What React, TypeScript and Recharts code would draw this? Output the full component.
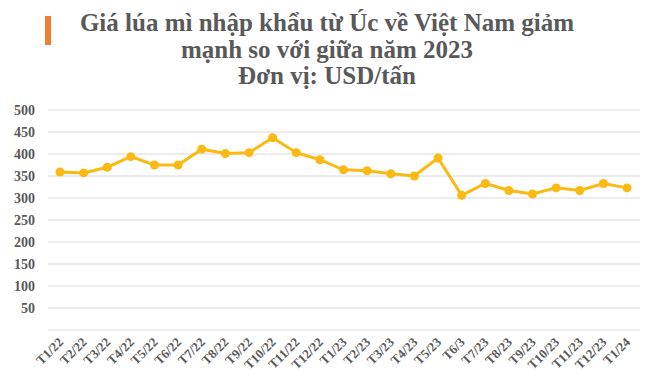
import React from 'react';
import { LineChart, Line, XAxis, YAxis, CartesianGrid } from 'recharts';

const months = [
  'T1/22', 'T2/22', 'T3/22', 'T4/22', 'T5/22', 'T6/22', 'T7/22', 'T8/22', 'T9/22',
  'T10/22', 'T11/22', 'T12/22', 'T1/23', 'T2/23', 'T3/23', 'T4/23', 'T5/23', 'T6/3',
  'T7/23', 'T8/23', 'T9/23', 'T10/23', 'T11/23', 'T12/23', 'T1/24',
];

const prices = [
  359, 357, 370, 394, 375, 375, 411, 401, 403, 437, 403, 387, 364,
  362, 355, 350, 391, 306, 333, 317, 309, 323, 317, 333, 323,
];

const yTicks = [0, 50, 100, 150, 200, 250, 300, 350, 400, 450, 500];

const titleLines = [
  'Giá lúa mì nhập khẩu từ Úc về Việt Nam giảm',
  'mạnh so với giữa năm 2023',
  'Đơn vị: USD/tấn',
];

const data = months.map((m, i) => ({ month: m, price: prices[i] }));

const FONT = '"Liberation Serif", "Times New Roman", serif';
const TEXT = '#595959';
const YELLOW = '#FBBA13';

const MonthTick = (props: any) => {
  const { x, y, payload } = props;
  return (
    <g transform={`translate(${x + 4},${y + 5})`}>
      <text
        x={0}
        y={0}
        textAnchor="end"
        transform="rotate(-45)"
        style={{ fontFamily: FONT, fontWeight: 'bold', fontSize: 13, fill: TEXT }}
      >
        {payload.value}
      </text>
    </g>
  );
};

const ValueTick = (props: any) => {
  const { x, y, payload } = props;
  if (payload.value === 0) return null;
  return (
    <text
      x={x}
      y={y}
      dy={5}
      textAnchor="end"
      style={{ fontFamily: FONT, fontWeight: 'bold', fontSize: 14, fill: TEXT }}
    >
      {payload.value}
    </text>
  );
};

export default function App() {
  return (
    <div style={{ position: 'absolute', left: 0, top: 0, width: 654, height: 383, background: '#fff' }}>
      <div style={{ position: 'absolute', left: 45, top: 16, width: 6, height: 29, background: '#ED7D31' }} />
      <div
        style={{
          position: 'absolute',
          left: 0,
          top: 10,
          width: 654,
          textAlign: 'center',
          fontFamily: FONT,
          fontWeight: 'bold',
          fontSize: 25,
          lineHeight: '26.5px',
          color: TEXT,
        }}
      >
        {titleLines.map((t) => (
          <div key={t}>{t}</div>
        ))}
      </div>
      <LineChart
        width={654}
        height={383}
        data={data}
        margin={{ top: 110, right: 14, left: 0, bottom: 0 }}
      >
        <CartesianGrid vertical={false} stroke="#d9d9d9" />
        <XAxis
          dataKey="month"
          interval={0}
          height={53}
          axisLine={false}
          tickLine={false}
          padding={{ left: 12, right: 13 }}
          tick={<MonthTick />}
        />
        <YAxis
          width={48}
          domain={[0, 500]}
          ticks={yTicks}
          interval={0}
          axisLine={false}
          tickLine={false}
          tickMargin={7}
          tick={<ValueTick />}
        />
        <Line
          type="linear"
          dataKey="price"
          stroke={YELLOW}
          strokeWidth={3}
          dot={{ r: 4.5, fill: YELLOW, stroke: YELLOW, strokeWidth: 0 }}
          isAnimationActive={false}
        />
      </LineChart>
    </div>
  );
}
